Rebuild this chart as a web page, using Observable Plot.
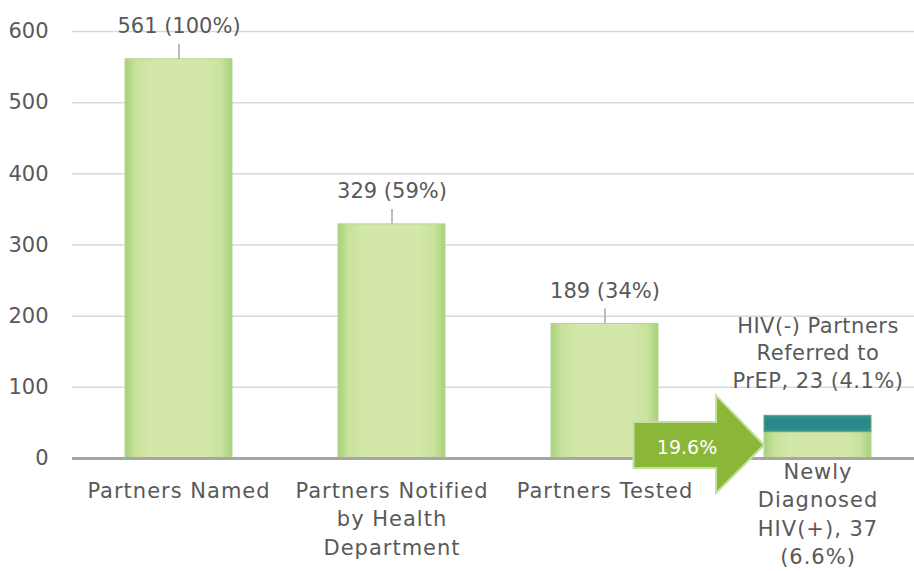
<!DOCTYPE html>
<html>
<head>
<meta charset="utf-8">
<script src="https://cdn.jsdelivr.net/npm/d3@7"></script>
<script src="https://cdn.jsdelivr.net/npm/@observablehq/plot@0.6"></script>
<style>
  html, body { margin: 0; padding: 0; background: #ffffff; }
  #chart svg { display: block; }
  #chart g[aria-label="x-axis tick label"] text { letter-spacing: 1px; }
  #chart .prep-label text, #chart text.prep-label, #chart .prep-label { letter-spacing: 0.5px; }
</style>
</head>
<body>
<div id="chart"></div>
<script>
// ---- data ----
const categories = ["Partners Named", "Partners Notified", "Partners Tested", "Newly Diagnosed"];
const tickLabels = ["Partners Named", "Partners Notified\nby Health\nDepartment", "Partners Tested", "Newly\nDiagnosed\nHIV(+), 37\n(6.6%)"];
const values = [561, 329, 189, 37];
const valueLabels = ["561 (100%)", "329 (59%)", "189 (34%)", ""];
const prepReferred = 23;
const prepLabel = "HIV(-) Partners\nReferred to\nPrEP, 23 (4.1%)";
const conversionLabel = "19.6%";
const yTicks = [0, 100, 200, 300, 400, 500, 600];

// ---- tables built from the arrays ----
const bars = categories.map((c, i) => ({cat: c, value: values[i], label: valueLabels[i]}));
const labelled = bars.filter(d => d.label !== "");
const prepBar = [{cat: categories[3], y1: values[3], y2: values[3] + prepReferred, label: prepLabel}];

const FONT = "DejaVu Sans, sans-serif";
const GRAY = "#595959";

function defsMark() {
  const g = d3.create("svg:g");
  const defs = g.append("defs");
  const lg = defs.append("linearGradient").attr("id", "barGrad").attr("x1", 0).attr("x2", 1).attr("y1", 0).attr("y2", 0);
  [[0, "#a6d07b"], [0.1, "#c9e29c"], [0.25, "#d4e7aa"], [0.75, "#d4e7aa"], [0.9, "#c9e29c"], [1, "#a6d07b"]]
    .forEach(([o, c]) => lg.append("stop").attr("offset", o).attr("stop-color", c));
  const tg = defs.append("linearGradient").attr("id", "tealGrad").attr("x1", 0).attr("x2", 0).attr("y1", 0).attr("y2", 1);
  [[0, "#3a9584"], [0.3, "#2a878e"], [0.7, "#2a878e"], [1, "#3a9584"]]
    .forEach(([o, c]) => tg.append("stop").attr("offset", o).attr("stop-color", c));
  return g.node();
}

function arrowMark(index, scales) {
  const x = scales.x, y = scales.y;
  const step = x(categories[3]) - x(categories[2]);
  const bw = step * 0.5;
  const tip = x(categories[3]);
  const tail = x(categories[2]) + bw * 0.775;
  const headBase = tip - bw * 0.45;
  const bTop = y(50.5), bBot = y(-14), hTop = y(88), hBot = y(-49);
  const cy = (bTop + bBot) / 2;
  const g = d3.create("svg:g");
  g.append("path")
    .attr("d", `M${tail},${bTop}L${headBase},${bTop}L${headBase},${hTop}L${tip},${cy}L${headBase},${hBot}L${headBase},${bBot}L${tail},${bBot}Z`)
    .attr("fill", "#8bb739")
    .attr("stroke", "#c4e0a0")
    .attr("stroke-width", 2)
    .attr("stroke-linejoin", "miter");
  g.append("text")
    .attr("x", tail + (tip - tail) * 0.41)
    .attr("y", cy + 3)
    .attr("text-anchor", "middle")
    .attr("dominant-baseline", "middle")
    .attr("fill", "#ffffff")
    .attr("font-family", FONT)
    .attr("font-size", 19)
    .text(conversionLabel);
  return g.node();
}

const chart = Plot.plot({
  width: 914,
  height: 571,
  marginLeft: 72,
  marginRight: 0,
  marginTop: 31,
  marginBottom: 113,
  style: {fontFamily: FONT, fontSize: "21px", color: GRAY, background: "#ffffff"},
  x: {domain: categories, range: [72, 924], paddingInner: 0.5, paddingOuter: 0.25},
  y: {domain: [0, 600]},
  marks: [
    defsMark,
    Plot.ruleY(yTicks.filter(t => t > 0), {stroke: "#d9d9d9", strokeWidth: 1.5}),
    Plot.barY(bars, {x: "cat", y: "value", fill: "url(#barGrad)", stroke: "#b3d78c", strokeWidth: 1}),
    Plot.barY(prepBar, {x: "cat", y1: "y1", y2: "y2", fill: "url(#tealGrad)", stroke: "#6aa86a", strokeWidth: 1}),
    Plot.ruleY([0], {stroke: "#a6a6a6", strokeWidth: 3}),
    Plot.ruleX(labelled, {x: "cat", y1: d => d.value, y2: d => d.value + 21, stroke: "#a6a6a6", strokeWidth: 1.5}),
    Plot.text(labelled, {x: "cat", y: "value", text: "label", dy: -33, fill: GRAY, fontSize: 21}),
    Plot.text(prepBar, {x: "cat", y: "y2", text: "label", lineAnchor: "bottom", dy: -28, fill: GRAY, fontSize: 21, lineHeight: 1.31, className: "prep-label"}),
    arrowMark,
    Plot.axisY({ticks: yTicks, tickSize: 0, tickPadding: 24, label: null, fill: GRAY, fontSize: 21}),
    Plot.axisX({ticks: categories.slice(0, 3), tickSize: 0, tickPadding: 19, label: null, tickFormat: d => tickLabels[categories.indexOf(d)], fill: GRAY, fontSize: 21, lineHeight: 1.36}),
    Plot.axisX({ticks: categories.slice(3), tickSize: 0, tickPadding: 19, dy: -19, label: null, tickFormat: d => tickLabels[categories.indexOf(d)], fill: GRAY, fontSize: 21, lineHeight: 1.36})
  ]
});
document.getElementById("chart").appendChild(chart);
</script>
</body>
</html>
